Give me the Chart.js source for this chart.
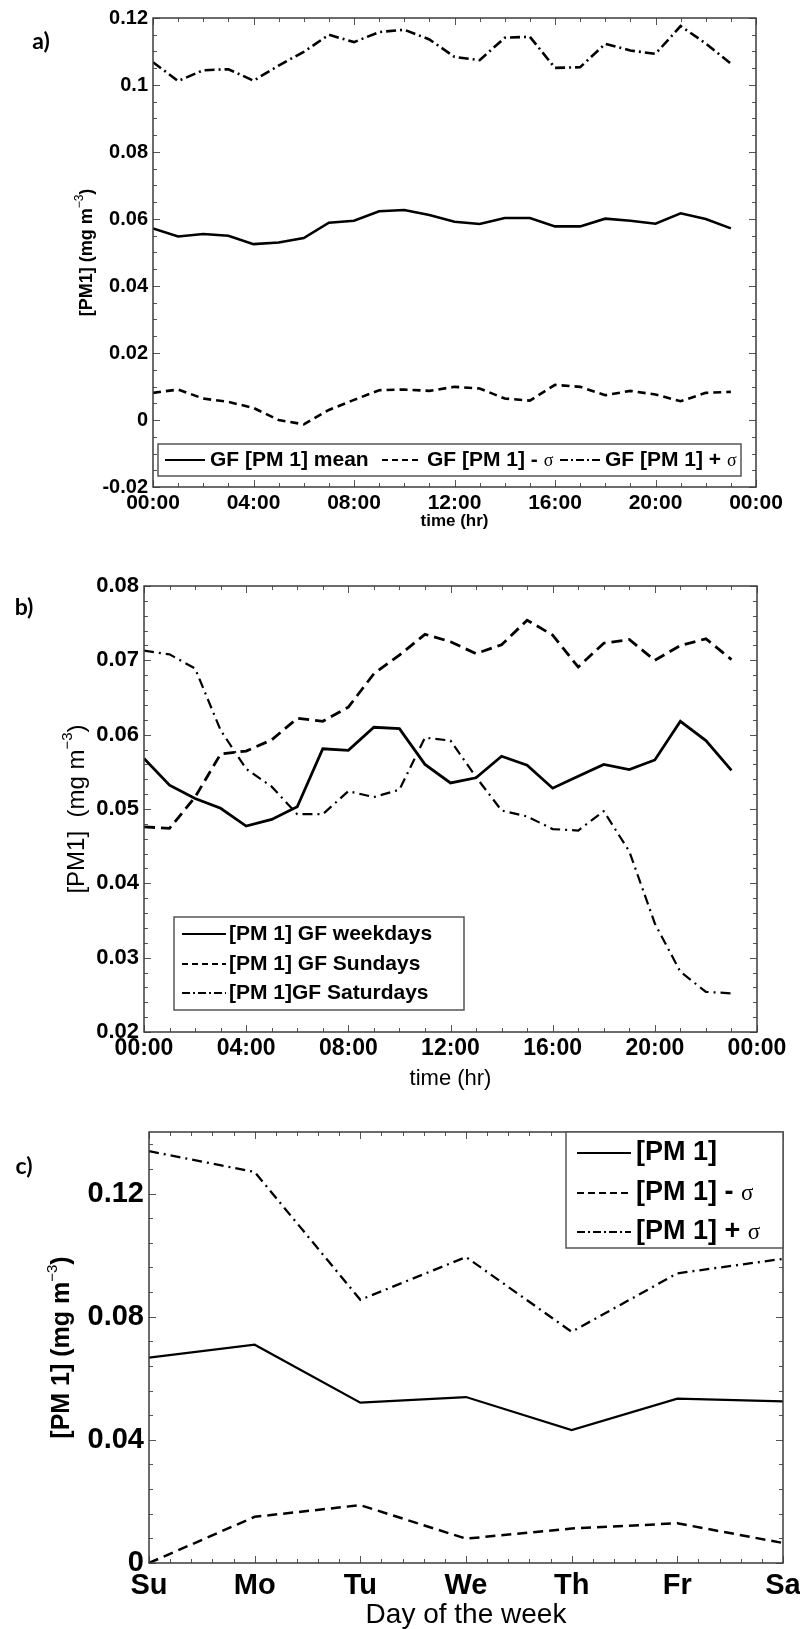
<!DOCTYPE html>
<html>
<head>
<meta charset="utf-8">
<script src="https://cdn.jsdelivr.net/npm/chart.js@4.4.1/dist/chart.umd.min.js"></script>
<style>
    body { margin: 0; background: #fff; width: 800px; height: 1629px; position: relative; overflow: hidden; }
    canvas { position: absolute; left: 0; }
</style>
</head>
<body>
<canvas id="grapheA" width="800" height="540" style="top:0"></canvas>
<canvas id="grapheB" width="800" height="560" style="top:540px"></canvas>
<canvas id="grapheC" width="800" height="549" style="top:1080px"></canvas>
<script>
// Heures de la journée (panneaux a et b)
const heures = [0, 1, 2, 3, 4, 5, 6, 7, 8, 9, 10, 11, 12, 13, 14, 15, 16, 17, 18, 19, 20, 21, 22, 23];
const ticksHeures = [0, 4, 8, 12, 16, 20, 24];
const etiquettesHeures = ['00:00', '04:00', '08:00', '12:00', '16:00', '20:00', '00:00'];

// Panneau a : moyenne et +/- sigma
const moyenneA = [0.0572, 0.0548, 0.0555, 0.0550, 0.0525, 0.0530, 0.0543, 0.0589, 0.0595, 0.0623, 0.0627, 0.0612,
                  0.0592, 0.0585, 0.0603, 0.0603, 0.0578, 0.0578, 0.0601, 0.0595, 0.0586, 0.0617, 0.0600, 0.0572];
const moinsSigmaA = [0.0081, 0.0091, 0.0064, 0.0054, 0.0036, 0.0000, -0.0013, 0.0030, 0.0060, 0.0089, 0.0091, 0.0087,
                     0.0099, 0.0094, 0.0064, 0.0058, 0.0105, 0.0099, 0.0074, 0.0087, 0.0076, 0.0056, 0.0081, 0.0084];
const plusSigmaA = [0.1068, 0.1012, 0.1044, 0.1047, 0.1013, 0.1058, 0.1099, 0.1150, 0.1128, 0.1158, 0.1165, 0.1136,
                    0.1084, 0.1074, 0.1141, 0.1144, 0.1051, 0.1053, 0.1123, 0.1103, 0.1093, 0.1176, 0.1124, 0.1064];
const ticksYA = [-0.02, 0, 0.02, 0.04, 0.06, 0.08, 0.1, 0.12];

// Panneau b : semaine, dimanches, samedis
const semaineB = [0.0568, 0.0532, 0.0514, 0.0501, 0.0477, 0.0486, 0.0503, 0.0581, 0.0579, 0.0610, 0.0608, 0.0560,
                  0.0535, 0.0542, 0.0571, 0.0559, 0.0528, 0.0544, 0.0560, 0.0553, 0.0566, 0.0618, 0.0592, 0.0552];
const dimanchesB = [0.0476, 0.0474, 0.0516, 0.0574, 0.0578, 0.0593, 0.0622, 0.0618, 0.0637, 0.0682, 0.0707, 0.0735,
                    0.0725, 0.0709, 0.0721, 0.0754, 0.0734, 0.0691, 0.0723, 0.0728, 0.0700, 0.0720, 0.0729, 0.0701];
const samedisB = [0.0713, 0.0708, 0.0689, 0.0606, 0.0554, 0.0530, 0.0493, 0.0493, 0.0524, 0.0516, 0.0526, 0.0596,
                  0.0592, 0.0543, 0.0498, 0.0490, 0.0473, 0.0471, 0.0497, 0.0443, 0.0346, 0.0281, 0.0254, 0.0252];
const ticksYB = [0.02, 0.03, 0.04, 0.05, 0.06, 0.07, 0.08];

// Panneau c : jours de la semaine
const jours = ['Su', 'Mo', 'Tu', 'We', 'Th', 'Fr', 'Sa'];
const pm1C = [0.0667, 0.0709, 0.0521, 0.0539, 0.0432, 0.0534, 0.0525];
const moinsSigmaC = [0.0000, 0.0150, 0.0188, 0.0079, 0.0112, 0.0129, 0.0065];
const plusSigmaC = [0.1338, 0.1270, 0.0855, 0.0994, 0.0751, 0.0941, 0.0988];
const ticksYC = [0, 0.04, 0.08, 0.12];

const POLICE = "'Liberation Sans', Arial, sans-serif";
Chart.defaults.color = '#000';
Chart.defaults.font.family = POLICE;

const PLEIN = [];
const TIRETS = [8, 5];
const MIXTE = [10, 4, 2, 4];

function points(valeurs) {
    return heures.map(function(h, i) { return { x: h, y: valeurs[i] }; });
}

function serie(label, donnees, tirets, epaisseur) {
    return {
        label: label,
        data: donnees,
        borderColor: '#000',
        borderWidth: epaisseur,
        borderDash: tirets,
        pointRadius: 0,
        tension: 0,
        fill: false
    };
}

function nombre(v) {
    return String(+v.toFixed(4));
}

// Texte avec sigma en police serif plus fine
function ecrireLabel(ctx, texte, x, y, taille) {
    var parts = texte.split('σ');
    ctx.textBaseline = 'middle';
    ctx.textAlign = 'left';
    ctx.font = 'bold ' + taille + 'px ' + POLICE;
    ctx.fillText(parts[0], x, y);
    if (parts.length > 1) {
        var w = ctx.measureText(parts[0]).width;
        ctx.font = Math.round(taille * 0.85) + "px 'Liberation Serif', serif";
        ctx.fillText('σ', x + w, y + 1);
    }
}

// Cadre, graduations internes, titres, légende
const cadreMatlab = {
    id: 'cadreMatlab',
    afterDraw: function(chart, args, o) {
        if (!o || !o.legende) return;
        var ctx = chart.ctx, a = chart.chartArea, sx = chart.scales.x, sy = chart.scales.y;
        ctx.save();
        ctx.strokeStyle = '#555';
        ctx.lineWidth = 1;
        ctx.setLineDash([]);
        var n = Math.floor((sx.max - sx.min) / o.pasX + 1e-6);
        for (var i = 0; i <= n; i++) {
            var v = sx.min + i * o.pasX;
            var l = (i % o.majX === 0) ? 7 : 4;
            var px = Math.round(sx.getPixelForDecimal((v - sx.min) / (sx.max - sx.min))) + 0.5;
            ctx.beginPath();
            ctx.moveTo(px, a.bottom); ctx.lineTo(px, a.bottom - l);
            ctx.moveTo(px, a.top); ctx.lineTo(px, a.top + l);
            ctx.stroke();
        }
        n = Math.floor((sy.max - sy.min) / o.pasY + 1e-6);
        for (var j = 0; j <= n; j++) {
            var w = sy.min + j * o.pasY;
            var lg = (j % o.majY === 0) ? 7 : 4;
            var py = Math.round(sy.getPixelForValue(w)) + 0.5;
            ctx.beginPath();
            ctx.moveTo(a.left, py); ctx.lineTo(a.left + lg, py);
            ctx.moveTo(a.right, py); ctx.lineTo(a.right - lg, py);
            ctx.stroke();
        }
        ctx.strokeStyle = '#3c3c3c';
        ctx.lineWidth = 1.5;
        ctx.strokeRect(a.left, a.top, a.right - a.left, a.bottom - a.top);

        // Légende
        var L = o.legende;
        ctx.fillStyle = '#fff';
        ctx.fillRect(L.x, L.y, L.l, L.h);
        ctx.strokeStyle = '#555';
        ctx.lineWidth = 1.5;
        ctx.strokeRect(L.x, L.y, L.l, L.h);
        ctx.fillStyle = '#000';
        chart.data.datasets.forEach(function(ds, k) {
            var e = L.entrees[k];
            ctx.strokeStyle = '#000';
            ctx.lineWidth = 2;
            ctx.setLineDash(L.tirets[k]);
            ctx.beginPath();
            ctx.moveTo(e[0], e[1]);
            ctx.lineTo(e[0] + L.longueur, e[1]);
            ctx.stroke();
            ctx.setLineDash([]);
            ecrireLabel(ctx, ds.label, e[0] + L.longueur + L.ecart, e[1], L.taille);
        });

        // Titre de l'axe x
        ctx.fillStyle = '#000';
        ctx.textAlign = 'center';
        ctx.textBaseline = 'middle';
        ctx.font = o.titreX.police;
        ctx.fillText(o.titreX.texte, (a.left + a.right) / 2, o.titreX.y);

        // Titre de l'axe y avec exposant
        var t = o.titreY;
        ctx.save();
        ctx.translate(t.x, (a.top + a.bottom) / 2);
        ctx.rotate(-Math.PI / 2);
        ctx.textBaseline = 'middle';
        ctx.font = t.police;
        var w1 = ctx.measureText(t.texte).width;
        ctx.font = t.policeExp;
        var w2 = ctx.measureText(t.exposant).width;
        ctx.font = t.police;
        var w3 = ctx.measureText(')').width;
        var x0 = -(w1 + w2 + w3) / 2;
        ctx.textAlign = 'left';
        ctx.fillText(t.texte, x0, 0);
        ctx.font = t.policeExp;
        ctx.fillText(t.exposant, x0 + w1, -t.decalage);
        ctx.font = t.police;
        ctx.fillText(')', x0 + w1 + w2, 0);
        ctx.restore();

        // Lettre du panneau
        ctx.font = "bold 23px Lato, 'Open Sans', sans-serif";
        ctx.textAlign = 'center';
        ctx.textBaseline = 'middle';
        ctx.fillText(o.lettre[0], o.lettre[1], o.lettre[2]);
        ctx.restore();
    }
};
Chart.register(cadreMatlab);

function axeX(type, taillePolice, padding, hauteur, extra) {
    var axe = {
        type: type,
        grid: { display: false, drawTicks: false },
        border: { display: false },
        ticks: { font: { size: taillePolice, weight: 'bold' }, padding: padding, maxRotation: 0, autoSkip: false },
        afterFit: function(s) { s.height = hauteur; s.paddingRight = 0; s.paddingLeft = 0; }
    };
    return Object.assign(axe, extra);
}

function axeY(min, max, ticks, taillePolice, largeur) {
    return {
        type: 'linear',
        min: min,
        max: max,
        grid: { display: false, drawTicks: false },
        border: { display: false },
        ticks: { font: { size: taillePolice, weight: 'bold' }, padding: 5, callback: nombre },
        afterBuildTicks: function(s) { s.ticks = ticks.map(function(v) { return { value: v }; }); },
        afterFit: function(s) { s.width = largeur; }
    };
}

function optionsCommunes(padding, echelles, cadre) {
    return {
        responsive: false,
        animation: false,
        devicePixelRatio: 1,
        layout: { padding: padding },
        scales: echelles,
        plugins: { legend: { display: false }, tooltip: { enabled: false }, cadreMatlab: cadre }
    };
}

var ticksHeuresCb = function(v) {
    var i = ticksHeures.indexOf(v);
    return i >= 0 ? etiquettesHeures[i] : '';
};
var heuresAfterBuild = function(s) { s.ticks = ticksHeures.map(function(v) { return { value: v }; }); };

// Panneau a
var grapheA = new Chart(document.getElementById('grapheA').getContext('2d'), {
    type: 'line',
    data: {
        datasets: [
            serie('GF [PM 1] mean', points(moyenneA), PLEIN, 2.6),
            serie('GF [PM 1] - σ', points(moinsSigmaA), TIRETS, 2.6),
            serie('GF [PM 1] + σ', points(plusSigmaA), MIXTE, 2.6)
        ]
    },
    options: optionsCommunes({ top: 18, right: 44, left: 0, bottom: 0 }, {
        x: axeX('linear', 21, 4, 53, { min: 0, max: 24, afterBuildTicks: heuresAfterBuild,
            ticks: { font: { size: 21, weight: 'bold' }, padding: 4, maxRotation: 0, autoSkip: false, callback: ticksHeuresCb } }),
        y: axeY(-0.02, 0.12, ticksYA, 20, 153)
    }, {
        pasX: 1, majX: 4, pasY: 0.005, majY: 4,
        legende: { x: 158, y: 444, l: 583, h: 32, longueur: 40, ecart: 5, taille: 21,
                   entrees: [[165, 460], [382, 460], [560, 460]], tirets: [PLEIN, [6, 4], [8, 3, 2, 3]] },
        titreX: { texte: 'time (hr)', y: 521, police: 'bold 17px ' + POLICE },
        titreY: { texte: '[PM1] (mg m', exposant: '−3', x: 87, police: 'bold 18px ' + POLICE,
                  policeExp: '12px ' + POLICE, decalage: 7 },
        lettre: ['a)', 41, 42]
    })
});

// Panneau b
var grapheB = new Chart(document.getElementById('grapheB').getContext('2d'), {
    type: 'line',
    data: {
        datasets: [
            serie('[PM 1] GF weekdays', points(semaineB), PLEIN, 2.8),
            serie('[PM 1] GF Sundays', points(dimanchesB), [11, 6], 2.8),
            serie('[PM 1]GF Saturdays', points(samedisB), [10, 5, 2, 5], 2.2)
        ]
    },
    options: optionsCommunes({ top: 46, right: 43, left: 0, bottom: 0 }, {
        x: axeX('linear', 23, 3, 68, { min: 0, max: 24, afterBuildTicks: heuresAfterBuild,
            ticks: { font: { size: 23, weight: 'bold' }, padding: 3, maxRotation: 0, autoSkip: false, callback: ticksHeuresCb } }),
        y: axeY(0.02, 0.08, ticksYB, 22, 144)
    }, {
        pasX: 1, majX: 4, pasY: 0.002, majY: 5,
        legende: { x: 174, y: 377, l: 290, h: 93, longueur: 44, ecart: 3, taille: 21,
                   entrees: [[182, 394], [182, 424], [182, 453]], tirets: [PLEIN, [6, 4], [8, 3, 2, 3]] },
        titreX: { texte: 'time (hr)', y: 539, police: '22px ' + POLICE },
        titreY: { texte: '[PM1]  (mg m', exposant: '−3', x: 77, police: '24px ' + POLICE,
                  policeExp: '15px ' + POLICE, decalage: 9 },
        lettre: ['b)', 24, 68]
    })
});

// Panneau c
var grapheC = new Chart(document.getElementById('grapheC').getContext('2d'), {
    type: 'line',
    data: {
        labels: jours,
        datasets: [
            serie('[PM 1]', pm1C, PLEIN, 2.2),
            serie('[PM 1] - σ', moinsSigmaC, [10, 6], 2.5),
            serie('[PM 1] + σ', plusSigmaC, [10, 5, 2, 5], 2.3)
        ]
    },
    options: optionsCommunes({ top: 52, right: 17, left: 0, bottom: 0 }, {
        x: axeX('category', 29, 6, 66, { offset: false }),
        y: axeY(0, 0.14, ticksYC, 29, 149)
    }, {
        pasX: 0.2, majX: 5, pasY: 0.008, majY: 5,
        legende: { x: 566, y: 52, l: 217, h: 116, longueur: 54, ecart: 5, taille: 27,
                   entrees: [[577, 73], [577, 113], [577, 152]], tirets: [PLEIN, [7, 4], [8, 3, 2, 3]] },
        titreX: { texte: 'Day of the week', y: 535, police: '28px ' + POLICE },
        titreY: { texte: '[PM 1] (mg m', exposant: '−3', x: 62, police: 'bold 25px ' + POLICE,
                  policeExp: '15px ' + POLICE, decalage: 9 },
        lettre: ['c)', 24, 87]
    })
});
</script>
</body>
</html>
